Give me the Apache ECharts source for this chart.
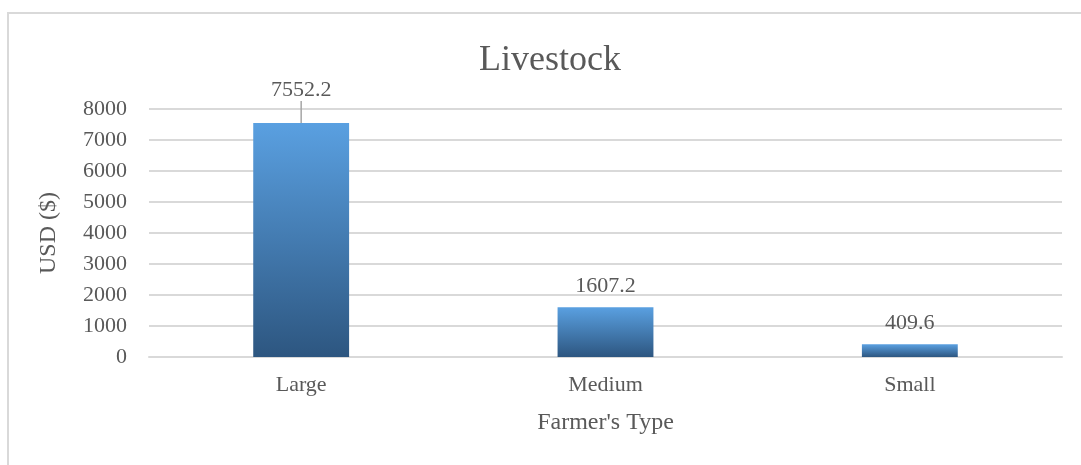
<!DOCTYPE html>
<html>
<head>
<meta charset="utf-8">
<script src="https://cdn.jsdelivr.net/npm/echarts@6/dist/echarts.min.js"></script>
<style>
  html, body { margin: 0; padding: 0; background: #fff; }
  #chart { width: 1081px; height: 465px; }
</style>
</head>
<body>
<div id="chart"></div>
<script>
const categories = ['Large', 'Medium', 'Small'];
const values = [7552.2, 1607.2, 409.6];
const yTicks = { min: 0, max: 8000, interval: 1000 };

const chart = echarts.init(document.getElementById('chart'));
const font = '"Liberation Serif", "DejaVu Serif", serif';
const textColor = '#595959';

// only the tallest bar's label is lifted with a leader line
const barData = values.map((v, i) => ({
  value: v,
  labelLine: { show: i === 0 }
}));

const option = {
  backgroundColor: '#fff',
  animation: false,
  title: {
    text: 'Livestock',
    left: 545,
    textAlign: 'center',
    top: 38,
    textStyle: { fontFamily: font, fontSize: 36, fontWeight: 'normal', color: textColor }
  },
  graphic: [{
    type: 'rect',
    silent: true,
    shape: { x: 8, y: 13, width: 1200, height: 600 },
    style: { fill: 'none', stroke: '#d9d9d9', lineWidth: 2 }
  }],
  grid: { left: 149, right: 19, top: 109, bottom: 108 },
  xAxis: {
    type: 'category',
    data: categories,
    name: "Farmer's Type",
    nameLocation: 'middle',
    nameGap: 54,
    nameTextStyle: { fontFamily: font, fontSize: 24, color: textColor },
    axisLine: { lineStyle: { color: '#d9d9d9', width: 2 } },
    axisTick: { show: false },
    axisLabel: { fontFamily: font, fontSize: 22, color: textColor, margin: 17 }
  },
  yAxis: {
    type: 'value',
    min: yTicks.min,
    max: yTicks.max,
    interval: yTicks.interval,
    name: 'USD ($)',
    nameLocation: 'middle',
    nameGap: 88,
    nameTextStyle: { fontFamily: font, fontSize: 24, color: textColor },
    axisLine: { show: false },
    axisTick: { show: false },
    axisLabel: {
      fontFamily: font, fontSize: 22, color: textColor, margin: 22,
      formatter: v => String(v)
    },
    splitLine: { lineStyle: { color: '#d9d9d9', width: 2 } }
  },
  series: [{
    type: 'bar',
    data: barData,
    barWidth: '31.5%',
    itemStyle: {
      color: new echarts.graphic.LinearGradient(0, 0, 0, 1, [
        { offset: 0, color: '#5aa0e1' },
        { offset: 1, color: '#2d5680' }
      ])
    },
    label: {
      show: true,
      position: 'top',
      distance: 10,
      fontFamily: font,
      fontSize: 22,
      color: textColor
    },
    labelLayout: function (params) {
      return params.dataIndex === 0 ? { dy: -12 } : {};
    },
    labelLine: {
      show: false,
      lineStyle: { color: '#a6a6a6', width: 1.5 }
    }
  }]
};

chart.setOption(option);
</script>
</body>
</html>
